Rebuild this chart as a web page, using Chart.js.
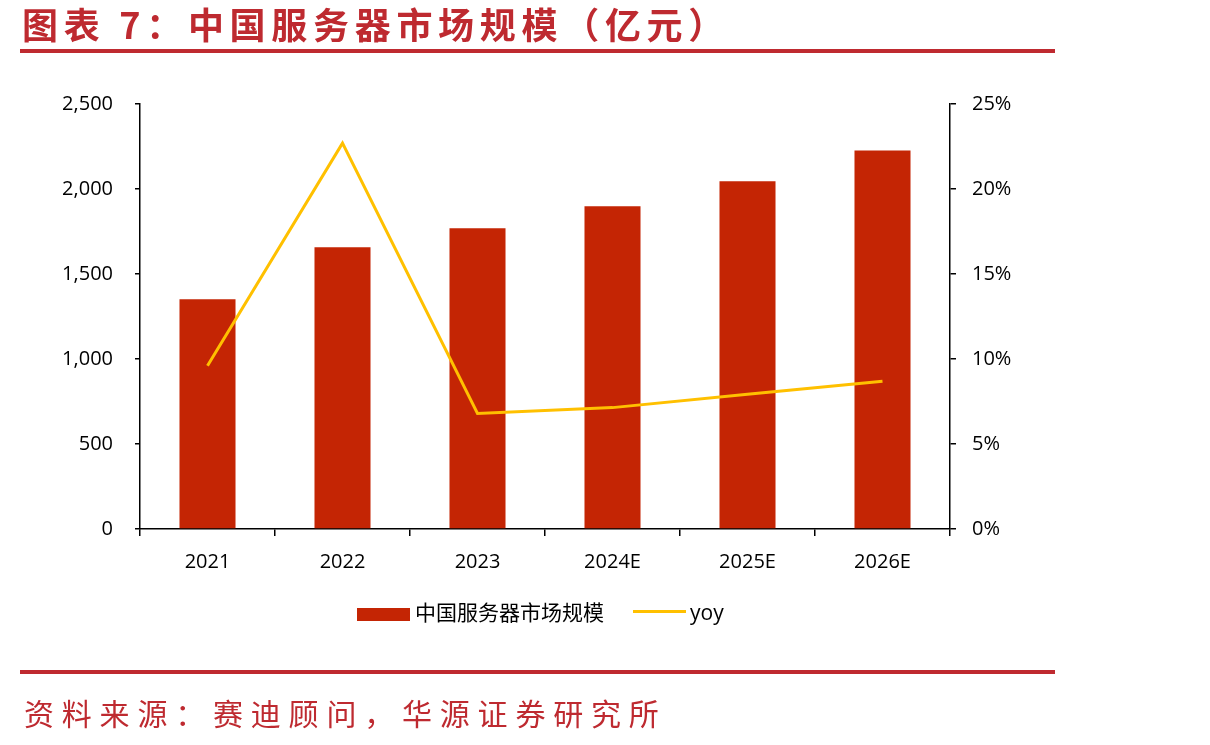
<!DOCTYPE html>
<html>
<head>
    <title>中国服务器市场规模</title>
    <script src="https://cdn.jsdelivr.net/npm/chart.js"></script>
    <style>
        body { margin: 0; background: #fff; }
        #wrap { position: relative; width: 1210px; height: 745px; overflow: hidden; }
        #chart { position: absolute; left: 0; top: 0; }
        .title { position: absolute; left: 22px; top: 0px; color: #BE2A30; font-family: "Noto Sans CJK SC"; font-weight: 700; font-size: 36px; line-height: 46px; letter-spacing: 5.7px; white-space: nowrap; }
        .rule { position: absolute; left: 20px; width: 1035px; height: 4px; background: #BF2A30; }
        .source { position: absolute; left: 24px; top: 692px; color: #BE2A30; font-family: "Noto Sans CJK SC"; font-weight: 400; font-size: 30px; line-height: 40px; letter-spacing: 7.8px; white-space: nowrap; }
        .legend { position: absolute; top: 597px; height: 28px; font-family: "Noto Sans CJK SC", "Open Sans"; font-size: 21px; line-height: 28px; color: #000; white-space: nowrap; }
    </style>
</head>
<body>
<div id="wrap">
    <canvas id="chart" width="1210" height="745"></canvas>
    <div class="title">图表 7：中国服务器市场规模（亿元）</div>
    <div class="rule" style="top:49px"></div>
    <div class="rule" style="top:670px"></div>
    <div class="source">资料来源：赛迪顾问，华源证券研究所</div>
    <div class="legend" style="left:357px">
        <span style="display:inline-block;width:53px;height:13px;background:#C42504;vertical-align:-1px;margin-right:5px"></span>中国服务器市场规模
    </div>
    <div class="legend" style="left:633px">
        <span style="display:inline-block;width:53px;height:3px;background:#FFC000;vertical-align:7px;margin-right:4px"></span><span style="font-family:'Open Sans'">yoy</span>
    </div>
</div>

<script>
    const years = ['2021', '2022', '2023', '2024E', '2025E', '2026E'];
    const marketSize = [1351, 1657, 1769, 1898, 2045, 2227];   // 亿元
    const yoy = [9.6, 22.7, 6.8, 7.14, 7.92, 8.69];             // %

    const tickFont = { family: 'Open Sans', size: 20 };

    new Chart(document.getElementById('chart').getContext('2d'), {
        type: 'bar',
        data: {
            labels: years,
            datasets: [
                {
                    type: 'line',
                    label: 'yoy',
                    data: yoy,
                    yAxisID: 'y1',
                    borderColor: '#FFC000',
                    borderWidth: 3,
                    pointRadius: 0,
                    tension: 0,
                    order: 0
                },
                {
                    label: '中国服务器市场规模',
                    data: marketSize,
                    yAxisID: 'y',
                    backgroundColor: '#C42504',
                    barPercentage: 0.415,
                    categoryPercentage: 1,
                    order: 1
                }
            ]
        },
        options: {
            responsive: false,
            animation: false,
            layout: { padding: { top: 104, left: 0, right: 0, bottom: 0 } },
            plugins: {
                legend: { display: false },
                tooltip: { enabled: false }
            },
            scales: {
                x: {
                    afterFit: s => { s.height = 216; },
                    grid: { drawOnChartArea: false, tickLength: 7, color: '#000', lineWidth: 1.5 },
                    border: { color: '#000', width: 1.5 },
                    ticks: { font: tickFont, color: '#000', padding: 14 }
                },
                y: {
                    position: 'left',
                    min: 0,
                    max: 2500,
                    afterFit: s => { s.width = 140; },
                    grid: { drawOnChartArea: false, tickLength: 5, color: '#000', lineWidth: 1.5 },
                    border: { color: '#000', width: 1.5 },
                    ticks: {
                        stepSize: 500,
                        font: tickFont,
                        color: '#000',
                        padding: 22,
                        callback: v => v.toLocaleString('en-US')
                    }
                },
                y1: {
                    position: 'right',
                    min: 0,
                    max: 25,
                    afterFit: s => { s.width = 260; },
                    grid: { drawOnChartArea: false, tickLength: 6, color: '#000', lineWidth: 1.5 },
                    border: { color: '#000', width: 1.5 },
                    ticks: {
                        stepSize: 5,
                        font: tickFont,
                        color: '#000',
                        padding: 16,
                        callback: v => v + '%'
                    }
                }
            }
        }
    });
</script>
</body>
</html>
